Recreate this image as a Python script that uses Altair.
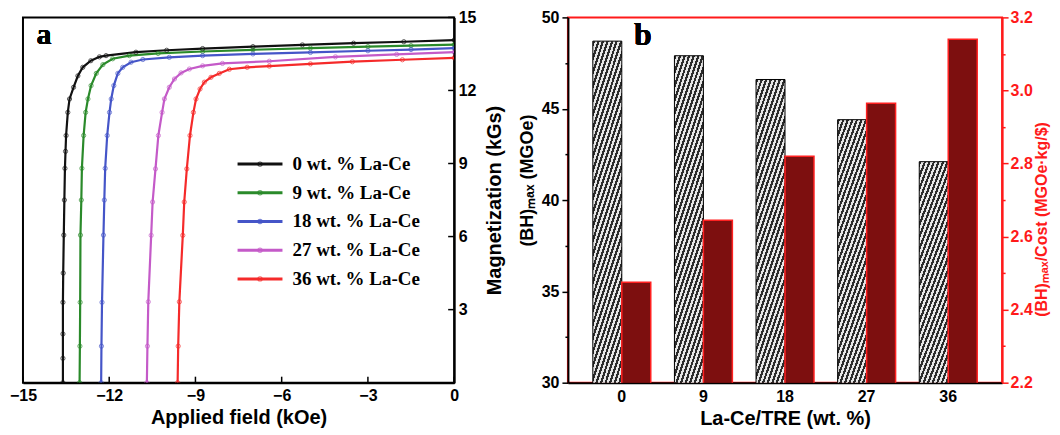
import altair as alt
import pandas as pd

# ---------------- Panel a data: demagnetization curves ----------------
labels = ["0 wt. % La-Ce", "9 wt. % La-Ce", "18 wt. % La-Ce", "27 wt. % La-Ce", "36 wt. % La-Ce"]
colors = ["#111111", "#2a8a2a", "#4555c8", "#c45ac8", "#f52a2a"]

H0 = [-13.61, -13.61, -13.61, -13.61, -13.60, -13.58, -13.56, -13.54, -13.52, -13.50, -13.44, -13.38, -13.24, -13.09, -12.92, -12.64, -12.34, -12.11, -11.07, -10.0, -8.75, -7.0, -5.28, -3.5, -1.75, 0.0]
M0 = [0.0, 1.0, 2.0, 3.3, 4.5, 6.06, 7.5, 8.8, 9.5, 10.15, 11.1, 11.65, 12.13, 12.6, 12.95, 13.22, 13.38, 13.43, 13.57, 13.65, 13.72, 13.8, 13.87, 13.94, 14.0, 14.07]

H9 = [-13.03, -13.02, -13.01, -13.0, -12.97, -12.95, -12.89, -12.82, -12.74, -12.63, -12.45, -12.22, -11.88, -11.30, -10.3, -8.75, -7.0, -5.0, -3.0, -1.5, 0.0]
M9 = [0.0, 1.5, 3.3, 6.06, 7.5, 8.8, 10.15, 11.1, 11.65, 12.2, 12.7, 13.06, 13.3, 13.43, 13.52, 13.6, 13.67, 13.74, 13.8, 13.84, 13.88]

H18 = [-12.28, -12.27, -12.25, -12.20, -12.17, -12.14, -12.07, -11.99, -11.93, -11.84, -11.70, -11.53, -11.24, -10.83, -9.91, -8.75, -7.0, -5.0, -3.0, -1.5, 0.0]
M18 = [0.0, 1.5, 3.3, 6.06, 7.5, 8.8, 10.15, 11.1, 11.65, 12.2, 12.7, 12.95, 13.16, 13.27, 13.36, 13.43, 13.5, 13.56, 13.63, 13.68, 13.74]

H27 = [-10.69, -10.67, -10.64, -10.54, -10.49, -10.39, -10.29, -10.16, -10.08, -9.91, -9.73, -9.50, -9.21, -8.75, -8.06, -6.43, -4.13, -2.0, 0.0]
M27 = [0.0, 1.5, 3.32, 6.05, 7.42, 8.78, 10.15, 11.1, 11.65, 12.13, 12.47, 12.72, 12.88, 13.01, 13.11, 13.2, 13.38, 13.48, 13.57]

H36 = [-9.62, -9.60, -9.56, -9.44, -9.39, -9.30, -9.19, -9.07, -8.98, -8.84, -8.69, -8.46, -8.17, -7.82, -7.2, -6.43, -5.0, -3.54, -1.8, 0.0]
M36 = [0.0, 1.5, 3.32, 6.05, 7.42, 8.78, 10.15, 11.1, 11.65, 12.06, 12.34, 12.54, 12.7, 12.87, 12.95, 13.0, 13.09, 13.18, 13.26, 13.34]

x_ticks_a = [-15, -12, -9, -6, -3, 0]
y_ticks_a = [3, 6, 9, 12, 15]

# ---------------- Panel b data: bars ----------------
cats = ["0", "9", "18", "27", "36"]
bh_max = [48.7, 47.9, 46.6, 44.4, 42.1]
bh_cost = [2.475, 2.645, 2.82, 2.965, 3.14]
y_ticks_b_left = [30, 32.5, 35, 37.5, 40, 42.5, 45, 47.5, 50]
y_ticks_b_right = [2.2, 2.3, 2.4, 2.5, 2.6, 2.7, 2.8, 2.9, 3.0, 3.1, 3.2]

# ---------------- build tables ----------------
rows = []
for lab, Hs, Ms in zip(labels, [H0, H9, H18, H27, H36], [M0, M9, M18, M27, M36]):
    for i, (h, m) in enumerate(zip(Hs, Ms)):
        rows.append({"label": lab, "H": h, "M": m, "i": i})
curves = pd.DataFrame(rows)
leg_df = pd.DataFrame({"label": labels})
xt_df = pd.DataFrame({"v": x_ticks_a})
yt_df = pd.DataFrame({"v": y_ticks_a})
bars = pd.DataFrame({"cat": cats, "BH": bh_max, "ratio": bh_cost})

SANS = "Liberation Sans"
SERIF = "Liberation Serif"
WA, HA = 432, 366
WB, HB = 435, 366
RED = "#ff1a1a"

xs = alt.Scale(domain=[-15, 0], nice=False, zero=False)
ys = alt.Scale(domain=[0, 15], nice=False, zero=False)
cscale = alt.Scale(domain=labels, range=colors)
legy = alt.Scale(type="point", domain=labels, range=[147, 262], padding=0)

x_axis_a = alt.Axis(values=x_ticks_a, ticks=False, tickSize=0, labelPadding=5, labelFlush=False,
                    title="Applied field (kOe)", titlePadding=4, grid=False,
                    domainColor="black", domainWidth=2)
y_axis_a = alt.Axis(orient="right", values=y_ticks_a, ticks=False, tickSize=0, labelPadding=4,
                    labelFlush=False, title="Magnetization (kGs)", titleAngle=270,
                    titleBaseline="middle", titleAlign="center", titleX=40, titleY=HA / 2,
                    grid=False, domainColor="black", domainWidth=2)

base = alt.Chart(curves)
lines = base.mark_line(strokeWidth=2.2, clip=True).encode(
    x=alt.X("H:Q", scale=xs, axis=x_axis_a),
    y=alt.Y("M:Q", scale=ys, axis=y_axis_a),
    color=alt.Color("label:N", scale=cscale, legend=None),
    order=alt.Order("i:Q"),
)
pts = base.mark_point(shape="circle", filled=False, size=18, strokeWidth=1, clip=True).encode(
    x=alt.X("H:Q", scale=xs),
    y=alt.Y("M:Q", scale=ys, axis=None),
    color=alt.Color("label:N", scale=cscale, legend=None),
)
xt = alt.Chart(xt_df).mark_rule(color="black", strokeWidth=1.5).encode(
    x=alt.X("v:Q", scale=xs), y=alt.value(HA), y2=alt.value(HA - 6))
yt = alt.Chart(yt_df).mark_rule(color="black", strokeWidth=1.5).encode(
    y=alt.Y("v:Q", scale=ys, axis=None), x=alt.value(WA), x2=alt.value(WA - 6))

leg_rule = alt.Chart(leg_df).mark_rule(strokeWidth=3).encode(
    x=alt.value(215), x2=alt.value(260),
    y=alt.Y("label:N", scale=legy, axis=None),
    color=alt.Color("label:N", scale=cscale, legend=None))
leg_pt = alt.Chart(leg_df).mark_point(shape="circle", filled=False, size=18, strokeWidth=1.2).encode(
    x=alt.value(237.5),
    y=alt.Y("label:N", scale=legy, axis=None),
    color=alt.Color("label:N", scale=cscale, legend=None))
leg_txt = alt.Chart(leg_df).mark_text(align="left", baseline="middle", font=SERIF, fontWeight="bold",
                                      fontSize=19, color="black").encode(
    x=alt.value(270), y=alt.Y("label:N", scale=legy, axis=None), text="label:N")
letter_a = alt.Chart(leg_df).mark_text(text="a", font=SERIF, fontWeight="bold", fontSize=30,
                                       color="black").encode(x=alt.value(21), y=alt.value(18))

panel_a = alt.layer(lines, pts, xt, yt, leg_rule, leg_pt, leg_txt, letter_a).resolve_scale(
    y="independent").properties(width=WA, height=HA,
                                view=alt.ViewBackground(stroke="black", strokeWidth=2))

# ---------------- panel b ----------------
nstripe = 70
stops = []
for k in range(nstripe):
    a0 = k / nstripe
    a1 = (k + 0.5) / nstripe
    a2 = (k + 1) / nstripe
    stops += [{"offset": a0, "color": "#2b2b2b"}, {"offset": a1, "color": "#2b2b2b"},
              {"offset": a1, "color": "#e6e6e6"}, {"offset": a2, "color": "#e6e6e6"}]
hatch = {"gradient": "linear", "x1": 0, "y1": 0, "x2": 0.109, "y2": 1.089, "stops": stops}

xb = alt.X("cat:N", sort=cats, scale=alt.Scale(paddingInner=0.29, paddingOuter=0.305),
           axis=alt.Axis(title="La-Ce/TRE (wt. %)", labelAngle=0, ticks=False, labelPadding=6,
                         titlePadding=4, domainColor="black", domainWidth=2, grid=False))
xoff = alt.XOffset("series:N", scale=alt.Scale(domain=["BH", "ratio"], paddingInner=0, paddingOuter=0))

left_axis = alt.Axis(values=y_ticks_b_left, grid=False,
                     labelExpr="datum.value % 5 == 0 ? datum.label : ''",
                     tickSize={"condition": {"test": "datum.value % 5 == 0", "value": 6}, "value": 3},
                     tickColor="black", tickWidth=1.5, labelPadding=3,
                     title="(BH)ₘₐₓ (MGOe)", titleFontSize=18, titleAngle=270,
                     titleBaseline="middle", titleAlign="center", titleX=-40, titleY=163,
                     domainColor="black", domainWidth=2)
right_axis = alt.Axis(orient="right", values=y_ticks_b_right, grid=False,
                      labelExpr="round(datum.value*10) % 2 == 0 ? format(datum.value, '.1f') : ''",
                      tickSize={"condition": {"test": "round(datum.value*10) % 2 == 0", "value": 6}, "value": 3},
                      tickColor=RED, tickWidth=1.5, labelColor=RED, labelPadding=2,
                      title="(BH)ₘₐₓ/Cost (MGOe·kg/$)", titleColor=RED, titleAngle=270,
                      titleBaseline="middle", titleAlign="center", titleX=39, titleY=202,
                      titleFontSize=16, domainColor=RED, domainWidth=2)

grey = alt.Chart(bars).transform_calculate(series="'BH'").mark_bar(
    fill=hatch, stroke="black", strokeWidth=1, clip=True).encode(
    x=xb, xOffset=xoff,
    y=alt.Y("BH:Q", scale=alt.Scale(domain=[30, 50], nice=False, zero=False), axis=left_axis))
red = alt.Chart(bars).transform_calculate(series="'ratio'").mark_bar(
    fill="#7d0f0f", stroke="#ff2020", strokeWidth=1.5, clip=True).encode(
    x=xb, xOffset=xoff,
    y=alt.Y("ratio:Q", scale=alt.Scale(domain=[2.2, 3.2], nice=False, zero=False), axis=right_axis))
letter_b = alt.Chart(bars).mark_text(text="b", font=SERIF, fontWeight="bold", fontSize=32,
                                     color="black").encode(x=alt.value(75), y=alt.value(18))

panel_b = alt.layer(grey, red, letter_b).resolve_scale(y="independent").properties(
    width=WB, height=HB, view=alt.ViewBackground(stroke=RED, strokeWidth=2))

chart = alt.hconcat(panel_a, panel_b, spacing=13).properties(
    padding={"left": 0, "top": 0, "right": 2, "bottom": 2}
).configure(font=SANS).configure_axis(
    labelFont=SANS, labelFontSize=16, labelFontWeight="bold", labelColor="black",
    titleFont=SANS, titleFontSize=20, titleFontWeight="bold", titleColor="black",
)

chart.save("out.html", embed_options={"renderer": "svg", "actions": False})
